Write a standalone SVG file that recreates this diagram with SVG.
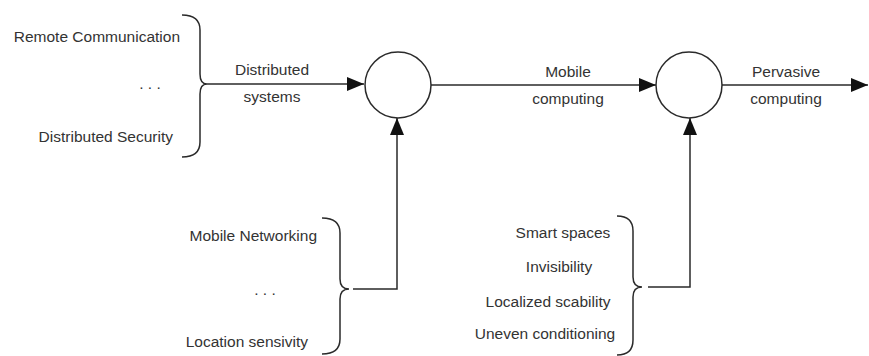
<svg xmlns="http://www.w3.org/2000/svg" width="869" height="356" viewBox="0 0 869 356">
<style>
  text { font-family: "Liberation Sans", Arial, sans-serif; font-size: 15.5px; fill: #333; }
  .ln { fill: none; stroke: #2a2a2a; stroke-width: 1.5; }
  .node { fill: #fff; stroke: #2a2a2a; stroke-width: 1.5; }
</style>
<defs>
  <marker id="arr" markerUnits="userSpaceOnUse" markerWidth="18" markerHeight="14" refX="17" refY="7" orient="auto">
    <path d="M0,0 L17,7 L0,14 Z" fill="#111"/>
  </marker>
</defs>
<rect width="869" height="356" fill="#fff"/>
<g id="connectors">
  <path class="ln" d="M182,15 Q200,15 200,30 L200,74 Q200,84 207,84 Q200,84 200,94 L200,142 Q200,157 182,157"/>
  <path class="ln" d="M207,84 L364,84" marker-end="url(#arr)"/>
  <path class="ln" d="M431,85 L656,85" marker-end="url(#arr)"/>
  <path class="ln" d="M722,85 L868,85" marker-end="url(#arr)"/>
  <path class="ln" d="M322,218 Q340,218 340,233 L340,279 Q340,289 349,289 Q340,289 340,299 L340,339 Q340,354 322,354"/>
  <path class="ln" d="M353,289 L397,289 L397,118" marker-end="url(#arr)"/>
  <path class="ln" d="M617,216 Q633,216 633,231 L633,277 Q633,287 642,287 Q633,287 633,297 L633,340 Q633,355 617,355"/>
  <path class="ln" d="M648,287 L690,287 L690,118" marker-end="url(#arr)"/>
</g>
<g id="node1"><circle class="node" cx="398" cy="85" r="33"/></g>
<g id="node2"><circle class="node" cx="689" cy="85" r="33"/></g>
<g id="labels-left">
  <text x="180" y="42" text-anchor="end">Remote Communication</text>
  <text x="150" y="89" text-anchor="middle">. . .</text>
  <text x="173" y="142" text-anchor="end">Distributed Security</text>
</g>
<g id="edge-labels">
  <text x="272" y="75" text-anchor="middle">Distributed</text>
  <text x="272" y="102" text-anchor="middle">systems</text>
  <text x="568" y="77" text-anchor="middle">Mobile</text>
  <text x="568" y="104" text-anchor="middle">computing</text>
  <text x="786" y="77" text-anchor="middle">Pervasive</text>
  <text x="786" y="104" text-anchor="middle">computing</text>
</g>
<g id="labels-bottom-left">
  <text x="317" y="241" text-anchor="end">Mobile Networking</text>
  <text x="265" y="295" text-anchor="middle">. . .</text>
  <text x="308" y="347" text-anchor="end">Location sensivity</text>
</g>
<g id="labels-bottom-right">
  <text x="563" y="238" text-anchor="middle">Smart spaces</text>
  <text x="559" y="272" text-anchor="middle">Invisibility</text>
  <text x="548" y="307" text-anchor="middle">Localized scability</text>
  <text x="545" y="339" text-anchor="middle">Uneven conditioning</text>
</g>
</svg>
